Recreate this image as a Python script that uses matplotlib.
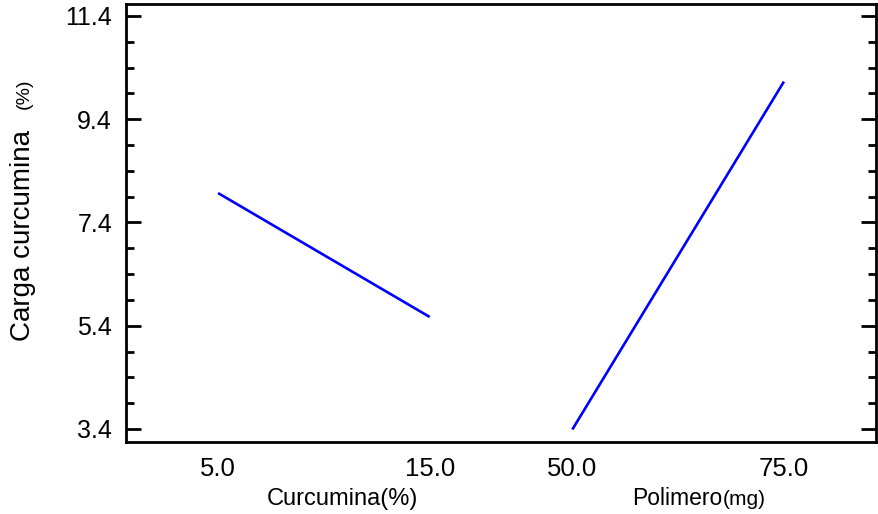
import numpy as np
import matplotlib.pyplot as plt
from matplotlib.ticker import MultipleLocator

plt.rcParams["font.family"] = ["Liberation Sans", "DejaVu Sans"]

# main effects: factor levels and mean response (Carga curcumina, %)
curcumina_levels = [5.0, 15.0]
curcumina_means = [7.97, 5.57]
polimero_levels = [50.0, 75.0]
polimero_means = [3.39, 10.13]

# each factor gets a slot of width 1 on a shared position axis
slot_step = 1.674
levels = [curcumina_levels, polimero_levels]
means = [curcumina_means, polimero_means]

fig = plt.figure(figsize=(8.79, 5.14), dpi=100)
ax = fig.add_axes([126 / 879, 1 - 442 / 514, 750 / 879, 438 / 514])

tick_pos, tick_lab = [], []
for i, (lv, mn) in enumerate(zip(levels, means)):
    x0 = i * slot_step
    xs = x0 + (np.array(lv) - lv[0]) / (lv[-1] - lv[0])
    ax.plot(xs, mn, color="#0000ff", lw=1.9, solid_capstyle="butt")
    tick_pos += list(xs)
    tick_lab += ["%.1f" % v for v in lv]

ax.set_xlim(-0.435, 1 + slot_step + 0.435)
ax.set_ylim(3.148, 11.632)

ax.set_xticks(tick_pos)
ax.set_xticklabels(tick_lab)
ax.tick_params(axis="x", length=0, pad=11, labelsize=18.5)

ax.yaxis.set_major_locator(MultipleLocator(2.0, offset=3.4))
ax.yaxis.set_minor_locator(MultipleLocator(0.5, offset=3.4))
ax.yaxis.set_major_formatter(lambda v, p: "%.1f" % v)
ax.tick_params(axis="y", which="both", direction="in", left=True, right=True,
               width=2.0, labelsize=18, pad=10)
ax.tick_params(axis="y", which="major", length=11)
ax.tick_params(axis="y", which="minor", length=5.5)

for s in ax.spines.values():
    s.set_linewidth(2.0)

# factor labels under each slot
ax.text(342 / 879, 0.0175, "Curcumina(%)", transform=fig.transFigure,
        ha="center", va="baseline", fontsize=17)
ax.text(722 / 879, 0.0175, "Polimero", transform=fig.transFigure,
        ha="right", va="baseline", fontsize=16.5)
ax.text(723 / 879, 0.0175, "(mg)", transform=fig.transFigure,
        ha="left", va="baseline", fontsize=15)

# y label in two sizes
fig.text(0.026, 1 - 341 / 514, "Carga curcumina", rotation=90,
         ha="center", va="bottom", fontsize=20)
fig.text(0.028, 1 - 109 / 514, "(%)", rotation=90,
         ha="center", va="bottom", fontsize=14)

fig.savefig("out.png", dpi=100)
